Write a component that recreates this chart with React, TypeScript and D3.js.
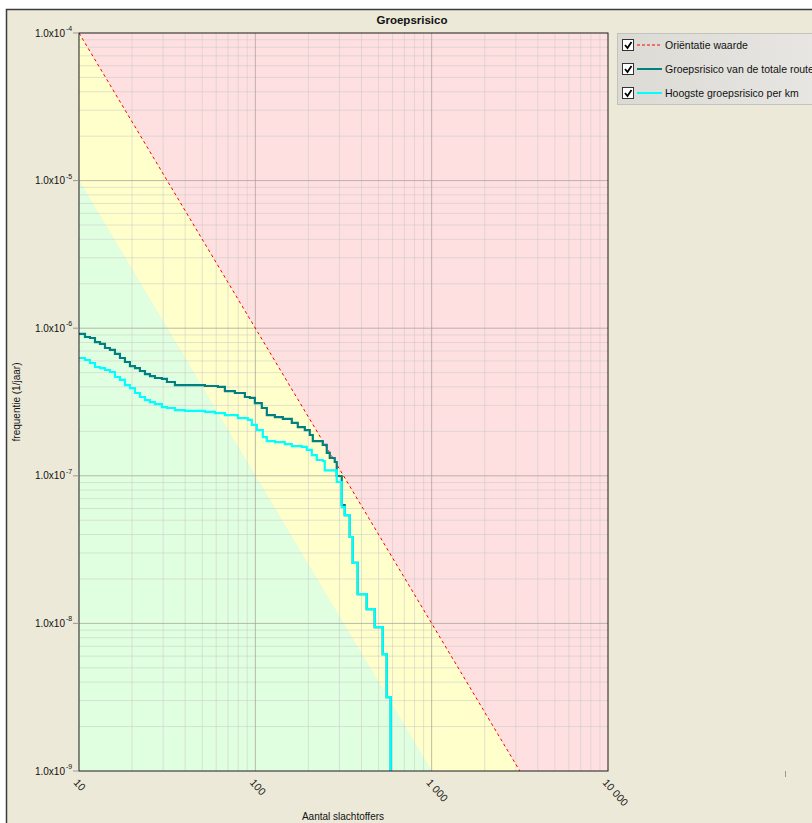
import * as d3 from "d3";

// as-tick waarden
const tickValuesX = [10, 100, 1000, 10000];
const tickLabelsX = ["10", "100", "1 000", "10 000"];
const tickExponentsY = [-4, -5, -6, -7, -8, -9];

// grenslijnen (orientatiewaarde en 10x lager)
const orientatieN = [10, 10000];
const orientatieF = [1e-4, 1e-10];
const groenGrensF = [1e-5, 1e-11];

// Groepsrisico van de totale route
const totaleRouteN = [10, 10.81, 11.54, 12.32, 13.15, 14.04, 14.98, 15.99, 17.07, 18.22, 19.45, 20.77, 22.16, 23.66, 25.26, 26.96, 29.53, 31.52, 34.99, 51.74, 61.33, 67.19, 76.55, 87.23, 93.07, 99.4, 108.8, 116.2, 129.0, 143.2, 161.0, 174.1, 190.8, 203.6, 211.8, 241.2, 254.2, 264.3, 282.1, 289.5, 309.1, 321.5, 343.1, 356.8, 380.8, 428.2, 475.4, 527.8, 555.9, 585.8];
const totaleRouteF = [9.14e-7, 8.72e-7, 8.58e-7, 8.06e-7, 7.82e-7, 7.34e-7, 7.12e-7, 6.69e-7, 6.28e-7, 5.9e-7, 5.54e-7, 5.37e-7, 5.13e-7, 4.89e-7, 4.74e-7, 4.6e-7, 4.53e-7, 4.32e-7, 4.12e-7, 4.06e-7, 4.0e-7, 3.75e-7, 3.64e-7, 3.42e-7, 3.37e-7, 3.11e-7, 2.88e-7, 2.58e-7, 2.5e-7, 2.43e-7, 2.28e-7, 2.14e-7, 2.04e-7, 1.89e-7, 1.72e-7, 1.62e-7, 1.43e-7, 1.32e-7, 1.24e-7, 9.97e-8, 6.34e-8, 5.42e-8, 3.85e-8, 2.57e-8, 1.58e-8, 1.25e-8, 9.45e-9, 6.2e-9, 3.17e-9, 1e-9];

// Hoogste groepsrisico per km
const hoogsteN = [10, 10.81, 11.54, 12.32, 13.15, 14.04, 14.98, 15.99, 17.07, 18.22, 19.45, 20.77, 22.16, 23.66, 25.26, 26.96, 29.53, 31.52, 34.99, 39.86, 51.74, 58.97, 67.19, 79.6, 90.7, 95.5, 102.0, 110.3, 116.2, 129.0, 146.9, 161.0, 183.4, 195.8, 209.0, 223.1, 241.2, 247.6, 289.5, 309.1, 321.5, 343.1, 356.8, 380.8, 428.2, 475.4, 527.8, 555.9, 585.8];
const hoogsteF = [6.28e-7, 6.09e-7, 5.81e-7, 5.46e-7, 5.37e-7, 5.21e-7, 5.05e-7, 4.67e-7, 4.46e-7, 4.12e-7, 3.93e-7, 3.64e-7, 3.42e-7, 3.26e-7, 3.16e-7, 3.06e-7, 2.92e-7, 2.88e-7, 2.79e-7, 2.75e-7, 2.71e-7, 2.66e-7, 2.58e-7, 2.46e-7, 2.39e-7, 2.21e-7, 2.04e-7, 1.83e-7, 1.72e-7, 1.69e-7, 1.64e-7, 1.59e-7, 1.57e-7, 1.5e-7, 1.38e-7, 1.28e-7, 1.26e-7, 1.09e-7, 9.08e-8, 6.14e-8, 5.42e-8, 3.85e-8, 2.57e-8, 1.58e-8, 1.25e-8, 9.45e-9, 6.2e-9, 3.17e-9, 1e-9];

const legendItems = ["Oriëntatie waarde", "Groepsrisico van de totale route", "Hoogste groepsrisico per km"];
const legendColors = ["#ff0000", "#008080", "#00ffff"];

const font = "'Liberation Sans', Arial, sans-serif";

export default function App() {
    const width = 812;
    const height = 823;
    const left = 79, right = 608, top = 33, bottom = 771;

    const x = d3.scaleLog().domain([10, 10000]).range([left, right]);
    const y = d3.scaleLog().domain([1e-4, 1e-9]).range([top, bottom]);

    const line = d3.line<[number, number]>().x(d => x(d[0])).y(d => y(d[1]));
    const stepLine = d3.line<[number, number]>().x(d => x(d[0])).y(d => y(d[1])).curve(d3.curveStepAfter);

    const totaal = totaleRouteN.map((n, i) => [n, totaleRouteF[i]] as [number, number]);
    const hoogste = hoogsteN.map((n, i) => [n, hoogsteF[i]] as [number, number]);

    const [n0, n1] = orientatieN;
    const roze: [number, number][] = [[n0, orientatieF[0]], [n1, 1e-4], [n1, orientatieF[1]]];
    const geel: [number, number][] = [[n0, orientatieF[0]], [n1, orientatieF[1]], [n1, groenGrensF[1]], [n0, groenGrensF[0]]];
    const groen: [number, number][] = [[n0, groenGrensF[0]], [n1, groenGrensF[1]], [n0, groenGrensF[1]]];

    const minorX: number[] = [];
    [10, 100, 1000].forEach(d => d3.range(2, 10).forEach(m => minorX.push(m * d)));
    const minorY: number[] = [];
    [1e-9, 1e-8, 1e-7, 1e-6, 1e-5].forEach(d => d3.range(2, 10).forEach(m => minorY.push(m * d)));

    return (
        <div style={{ position: "absolute", left: 0, top: 0 }}>
            <svg width={width} height={height} style={{ display: "block", fontFamily: font }}>
                <defs>
                    <clipPath id="plot">
                        <rect x={left} y={top} width={right - left} height={bottom - top} />
                    </clipPath>
                    <linearGradient id="legendBg" x1="0" x2="1" y1="0" y2="0">
                        <stop offset="0" stopColor="#dcdad5" />
                        <stop offset="1" stopColor="#e8e6e2" />
                    </linearGradient>
                </defs>
                <rect x={0} y={0} width={width} height={height} fill="#ffffff" />
                <rect x={6.5} y={9.5} width={width} height={height} fill="#ece9d8" stroke="#3c3c3c" strokeWidth={1.5} />

                <text x={412} y={24} textAnchor="middle" fontSize={11.5} fontWeight="bold" fill="#111">Groepsrisico</text>

                <g clipPath="url(#plot)">
                    <path d={line(roze) + "Z"} fill="#ffe0e1" />
                    <path d={line(geel) + "Z"} fill="#ffffcc" />
                    <path d={line(groen) + "Z"} fill="#e0ffe0" />

                    {minorX.map(v => <line key={"mx" + v} x1={x(v)} x2={x(v)} y1={top} y2={bottom} stroke="#c8c8c8" strokeOpacity={0.5} />)}
                    {minorY.map(v => <line key={"my" + v} x1={left} x2={right} y1={y(v)} y2={y(v)} stroke="#c8c8c8" strokeOpacity={0.5} />)}
                    {[100, 1000].map(v => <line key={"Mx" + v} x1={x(v)} x2={x(v)} y1={top} y2={bottom} stroke="#a8a098" strokeOpacity={0.75} />)}
                    {tickExponentsY.slice(1, -1).map(e => <line key={"My" + e} x1={left} x2={right} y1={y(Math.pow(10, e))} y2={y(Math.pow(10, e))} stroke="#a8a098" strokeOpacity={0.75} />)}

                    <path d={line(orientatieN.map((n, i) => [n, orientatieF[i]] as [number, number])) ?? ""} fill="none" stroke="#ff0000" strokeWidth={1} strokeDasharray="3,3" />
                    <path d={stepLine(totaal) ?? ""} fill="none" stroke="#008080" strokeWidth={2.2} />
                    <path d={stepLine(hoogste) ?? ""} fill="none" stroke="#00ffff" strokeWidth={2.2} />
                </g>
                <rect x={left} y={top} width={right - left} height={bottom - top} fill="none" stroke="#1a1a1a" strokeWidth={1} />

                {tickExponentsY.map(e => {
                    const ty = y(Math.pow(10, e));
                    return (
                        <g key={"ty" + e}>
                            <line x1={left - 6} x2={left} y1={ty} y2={ty} stroke="#999" />
                            <text x={65} y={ty + 3.5} textAnchor="end" fontSize={10} fill="#111">1.0x10</text>
                            <text x={66} y={ty - 2} fontSize={7} fill="#111">{String(e)}</text>
                        </g>
                    );
                })}

                {tickValuesX.map((v, i) => (
                    <text key={"tx" + v} transform={`translate(${x(v) - 6},${783}) rotate(48)`} fontSize={10.5} fill="#111">{tickLabelsX[i]}</text>
                ))}

                <line x1={785.5} x2={785.5} y1={771} y2={777} stroke="#999" />

                <text x={343} y={820} textAnchor="middle" fontSize={10} fill="#111">Aantal slachtoffers</text>
                <text transform={`translate(20,${(top + bottom) / 2}) rotate(-90)`} textAnchor="middle" fontSize={10} fill="#111">frequentie (1/jaar)</text>

                <rect x={617.5} y={33.5} width={200} height={71} fill="url(#legendBg)" stroke="#c4c2bc" />
                {legendItems.map((label, i) => {
                    const ly = 45 + i * 24;
                    return (
                        <g key={label}>
                            <rect x={622.5} y={ly - 5.5} width={11} height={11} fill="#fff" stroke="#333" />
                            <path d={`M${625},${ly} L${627.5},${ly + 3} L${631.5},${ly - 3}`} fill="none" stroke="#000" strokeWidth={1.8} />
                            <line x1={637} x2={662} y1={ly} y2={ly} stroke={legendColors[i]} strokeWidth={i === 0 ? 1 : 2} strokeDasharray={i === 0 ? "3,2" : undefined} />
                            <text x={665} y={ly + 3.5} fontSize={10.5} fill="#111">{label}</text>
                        </g>
                    );
                })}
            </svg>
        </div>
    );
}
